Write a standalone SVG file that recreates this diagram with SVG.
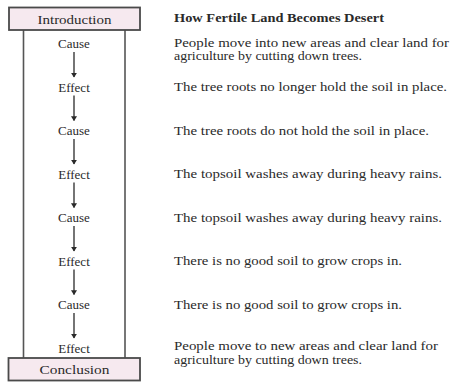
<svg xmlns="http://www.w3.org/2000/svg" width="451" height="382" viewBox="0 0 451 382">
<defs>
<marker id="ah" viewBox="0 0 8 10" refX="7" refY="5" markerWidth="5" markerHeight="6" markerUnits="userSpaceOnUse" orient="auto">
<path d="M0,0 L8,5 L0,10 Z" fill="#2a2a2a"/>
</marker>
<style>
text{font-family:"Liberation Serif","Times New Roman",serif;fill:#2a2a2a}
.lbl{font-size:13px;text-anchor:middle}
.box{fill:#f6e9ef;stroke:#4a4a4a;stroke-width:1.8}
.rail{stroke:#555;stroke-width:1.6;fill:none}
.arr{stroke:#2a2a2a;stroke-width:1.3;fill:none;marker-end:url(#ah)}
.txt{font-size:12px}
.head{font-size:12.5px;font-weight:bold}
</style>
</defs>
<g id="frame">
<line class="rail" x1="23.5" y1="30" x2="23.5" y2="358"/>
<line class="rail" x1="125" y1="30" x2="125" y2="358"/>
</g>
<g id="introduction">
<rect class="box" x="9" y="7.5" width="131" height="22.5"/>
<text class="lbl" x="74.5" y="23.5" textLength="74" lengthAdjust="spacingAndGlyphs">Introduction</text>
</g>
<g id="conclusion">
<rect class="box" x="8.5" y="358" width="131.5" height="22.5"/>
<text class="lbl" x="74.5" y="374" textLength="70" lengthAdjust="spacingAndGlyphs">Conclusion</text>
</g>
<g id="cause1"><text class="lbl" x="74" y="48">Cause</text></g>
<g id="effect1"><text class="lbl" x="74" y="91.5">Effect</text></g>
<g id="cause2"><text class="lbl" x="74" y="135">Cause</text></g>
<g id="effect2"><text class="lbl" x="74" y="178.5">Effect</text></g>
<g id="cause3"><text class="lbl" x="74" y="222">Cause</text></g>
<g id="effect3"><text class="lbl" x="74" y="265.5">Effect</text></g>
<g id="cause4"><text class="lbl" x="74" y="309">Cause</text></g>
<g id="effect4"><text class="lbl" x="74" y="352.5">Effect</text></g>
<g id="connectors">
<line class="arr" x1="74" y1="52" x2="74" y2="77"/>
<line class="arr" x1="74" y1="95.5" x2="74" y2="120.5"/>
<line class="arr" x1="74" y1="139" x2="74" y2="164"/>
<line class="arr" x1="74" y1="182.5" x2="74" y2="207.5"/>
<line class="arr" x1="74" y1="226" x2="74" y2="251"/>
<line class="arr" x1="74" y1="269.5" x2="74" y2="294.5"/>
<line class="arr" x1="74" y1="313" x2="74" y2="338"/>
</g>
<g id="descriptions">
<text class="head" x="174" y="22" textLength="210" lengthAdjust="spacingAndGlyphs">How Fertile Land Becomes Desert</text>
<text class="txt" x="174" y="46.5" textLength="275" lengthAdjust="spacingAndGlyphs">People move into new areas and clear land for</text>
<text class="txt" x="174" y="60" textLength="188" lengthAdjust="spacingAndGlyphs">agriculture by cutting down trees.</text>
<text class="txt" x="174" y="91" textLength="273" lengthAdjust="spacingAndGlyphs">The tree roots no longer hold the soil in place.</text>
<text class="txt" x="174" y="134.5" textLength="255" lengthAdjust="spacingAndGlyphs">The tree roots do not hold the soil in place.</text>
<text class="txt" x="174" y="178" textLength="268" lengthAdjust="spacingAndGlyphs">The topsoil washes away during heavy rains.</text>
<text class="txt" x="174" y="221.5" textLength="268" lengthAdjust="spacingAndGlyphs">The topsoil washes away during heavy rains.</text>
<text class="txt" x="174" y="265" textLength="228" lengthAdjust="spacingAndGlyphs">There is no good soil to grow crops in.</text>
<text class="txt" x="174" y="308.5" textLength="228" lengthAdjust="spacingAndGlyphs">There is no good soil to grow crops in.</text>
<text class="txt" x="174" y="350" textLength="264" lengthAdjust="spacingAndGlyphs">People move to new areas and clear land for</text>
<text class="txt" x="174" y="363.5" textLength="188" lengthAdjust="spacingAndGlyphs">agriculture by cutting down trees.</text>
</g>
</svg>
